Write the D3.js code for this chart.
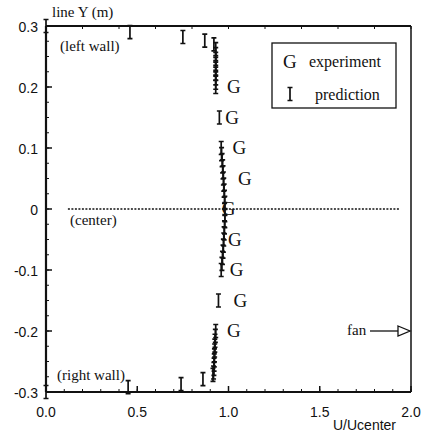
<!DOCTYPE html>
<html>
<head>
    <meta charset="utf-8">
    <title>velocity profile</title>
    <script src="https://d3js.org/d3.v7.min.js"></script>
    <style>
        body { margin: 0; background: #fff; }
        .tick-label { font-family: "Liberation Sans", Arial, sans-serif; font-size: 14px; fill: #111; }
        .note { font-family: "Liberation Serif", "Times New Roman", serif; font-size: 15px; fill: #111; }
        .legend-text { font-family: "Liberation Serif", "Times New Roman", serif; font-size: 16px; fill: #111; }
        .mark { font-family: "Liberation Serif", "Times New Roman", serif; font-size: 19px; fill: #111; }
        .frame { stroke: #111; fill: none; }
        .ibar { stroke: #111; fill: none; stroke-width: 1.7; }
    </style>
</head>
<body>
<script>
    // experiment (G) : U/Ucenter vs line Y (m)
    var expU = [1.03, 1.02, 1.06, 1.09, 1.00, 1.035, 1.045, 1.065, 1.03];
    var expY = [0.20, 0.15, 0.10, 0.05, 0.00, -0.05, -0.10, -0.15, -0.20];

    // prediction (I)
    var predU = [0.00, 0.46, 0.75, 0.87, 0.92, 0.93, 0.93, 0.93, 0.93, 0.93, 0.93, 0.93, 0.93, 0.93,
                 0.95, 0.96, 0.962, 0.965, 0.968, 0.97, 0.972, 0.974, 0.976, 0.978, 0.98, 0.98,
                 0.98, 0.98, 0.978, 0.976, 0.974, 0.972, 0.97, 0.967, 0.964, 0.96,
                 0.945, 0.93, 0.928, 0.926, 0.925, 0.924, 0.923, 0.922, 0.921, 0.92, 0.918, 0.915,
                 0.86, 0.74, 0.45, 0.00];
    var predY = [0.300, 0.290, 0.282, 0.276, 0.270, 0.262, 0.254, 0.246, 0.238, 0.230, 0.222, 0.214, 0.207, 0.200,
                 0.150, 0.100, 0.090, 0.080, 0.070, 0.060, 0.050, 0.040, 0.030, 0.020, 0.010, 0.000,
                 -0.010, -0.020, -0.030, -0.040, -0.050, -0.060, -0.070, -0.080, -0.090, -0.100,
                 -0.150, -0.200, -0.208, -0.216, -0.224, -0.232, -0.240, -0.248, -0.255, -0.262, -0.268, -0.272,
                 -0.279, -0.287, -0.292, -0.300];

    var xTicks = [0, 0.5, 1.0, 1.5, 2.0];
    var yTicks = [0.3, 0.2, 0.1, 0, -0.1, -0.2, -0.3];

    var width = 423, height = 433;
    var x = d3.scaleLinear().domain([0, 2]).range([46, 411]);
    var y = d3.scaleLinear().domain([-0.3, 0.3]).range([392, 26]);

    var svg = d3.select("body").append("svg")
        .attr("width", width).attr("height", height);

    // "I" shaped marker (vertical bar with serifs)
    function ibar(cx, cy) {
        var h = 6.5, w = 2.5;
        return "M" + cx + "," + (cy - h) + "V" + (cy + h) +
            "M" + (cx - w) + "," + (cy - h) + "H" + (cx + w) +
            "M" + (cx - w) + "," + (cy + h) + "H" + (cx + w);
    }

    // minor ticks
    svg.selectAll(".ytick-minor")
        .data(d3.range(-0.3, 0.3001, 0.025)).enter().append("line")
        .attr("class", "frame").attr("stroke-width", 1)
        .attr("x1", x(0)).attr("x2", x(0) + 3)
        .attr("y1", function (d) { return y(d); }).attr("y2", function (d) { return y(d); });

    svg.selectAll(".xtick-minor")
        .data(d3.range(0, 2.001, 0.1)).enter().append("line")
        .attr("class", "frame").attr("stroke-width", 1)
        .attr("x1", function (d) { return x(d); }).attr("x2", function (d) { return x(d); })
        .attr("y1", y(-0.3)).attr("y2", y(-0.3) - 3);

    svg.selectAll(".xtick-top")
        .data(d3.range(0.2, 2.001, 0.2)).enter().append("line")
        .attr("class", "frame").attr("stroke-width", 1)
        .attr("x1", function (d) { return x(d); }).attr("x2", function (d) { return x(d); })
        .attr("y1", y(0.3)).attr("y2", y(0.3) + 3);

    // major ticks
    svg.selectAll(".ytick")
        .data(yTicks).enter().append("line")
        .attr("class", "frame").attr("stroke-width", 1.5)
        .attr("x1", x(0)).attr("x2", x(0) + 6)
        .attr("y1", function (d) { return y(d); }).attr("y2", function (d) { return y(d); });

    svg.selectAll(".xtick")
        .data(xTicks).enter().append("line")
        .attr("class", "frame").attr("stroke-width", 1.5)
        .attr("x1", function (d) { return x(d); }).attr("x2", function (d) { return x(d); })
        .attr("y1", y(-0.3)).attr("y2", y(-0.3) - 6);

    // frame
    svg.append("line").attr("class", "frame").attr("stroke-width", 2.2)
        .attr("x1", x(0)).attr("x2", x(0)).attr("y1", y(0.3)).attr("y2", y(-0.3));
    svg.append("line").attr("class", "frame").attr("stroke-width", 2.2)
        .attr("x1", x(0)).attr("x2", x(2)).attr("y1", y(-0.3)).attr("y2", y(-0.3));
    svg.append("line").attr("class", "frame").attr("stroke-width", 2)
        .attr("x1", x(0)).attr("x2", x(2)).attr("y1", y(0.3)).attr("y2", y(0.3));
    svg.append("line").attr("class", "frame").attr("stroke-width", 1.5)
        .attr("x1", x(2)).attr("x2", x(2)).attr("y1", y(0.3)).attr("y2", y(-0.3));

    // tick labels
    svg.selectAll(".ylab")
        .data(yTicks).enter().append("text")
        .attr("class", "tick-label")
        .attr("text-anchor", "end")
        .attr("x", 38).attr("y", function (d) { return y(d) + 6; })
        .text(function (d) { return d === 0 ? "0" : d.toFixed(1); });

    svg.selectAll(".xlab")
        .data(xTicks).enter().append("text")
        .attr("class", "tick-label")
        .attr("text-anchor", "middle")
        .attr("x", function (d) { return x(d); }).attr("y", 417)
        .text(function (d) { return d.toFixed(1); });

    // center line
    svg.append("line")
        .attr("x1", x(0.12)).attr("x2", x(1.94)).attr("y1", y(0)).attr("y2", y(0))
        .attr("stroke", "#111").attr("stroke-width", 1.3).attr("stroke-dasharray", "2,1.5");

    // prediction marks
    svg.selectAll(".pred")
        .data(predU).enter().append("path")
        .attr("class", "ibar")
        .attr("d", function (d, i) { return ibar(x(d), y(predY[i])); });

    // experiment marks
    svg.selectAll(".exp")
        .data(expU).enter().append("text")
        .attr("class", "mark")
        .attr("text-anchor", "middle")
        .attr("x", function (d) { return x(d); })
        .attr("y", function (d, i) { return y(expY[i]); })
        .attr("dy", "0.34em")
        .text("G");

    // annotations
    svg.append("text").attr("class", "note").attr("x", 52).attr("y", 17).text("line Y (m)");
    svg.append("text").attr("class", "note").attr("x", 60).attr("y", 51).text("(left wall)");
    svg.append("text").attr("class", "note").attr("x", 70).attr("y", 225).text("(center)");
    svg.append("text").attr("class", "note").attr("x", 57).attr("y", 380).text("(right wall)");
    svg.append("text").attr("class", "tick-label").attr("font-size", "14.5px")
        .attr("x", 333).attr("y", 430).text("U/Ucenter");

    // fan arrow
    svg.append("text").attr("class", "note").attr("font-size", "14px")
        .attr("x", 347).attr("y", 335).text("fan");
    svg.append("line").attr("x1", 370).attr("x2", 398).attr("y1", y(-0.2)).attr("y2", y(-0.2))
        .attr("stroke", "#111").attr("stroke-width", 1.3);
    svg.append("path")
        .attr("d", "M398," + (y(-0.2) - 5) + " L410," + y(-0.2) + " L398," + (y(-0.2) + 5) + " Z")
        .attr("fill", "#fff").attr("stroke", "#111").attr("stroke-width", 1.3);

    // legend
    var legend = svg.append("g");
    legend.append("rect").attr("x", 272).attr("y", 43).attr("width", 124).attr("height", 65)
        .attr("fill", "#fff").attr("stroke", "#111").attr("stroke-width", 1.3);
    legend.append("text").attr("class", "mark").attr("x", 283).attr("y", 68).text("G");
    legend.append("text").attr("class", "legend-text").attr("x", 309).attr("y", 67).text("experiment");
    legend.append("path").attr("class", "ibar").attr("d", ibar(290, 94));
    legend.append("text").attr("class", "legend-text").attr("x", 315).attr("y", 100).text("prediction");
</script>
</body>
</html>
